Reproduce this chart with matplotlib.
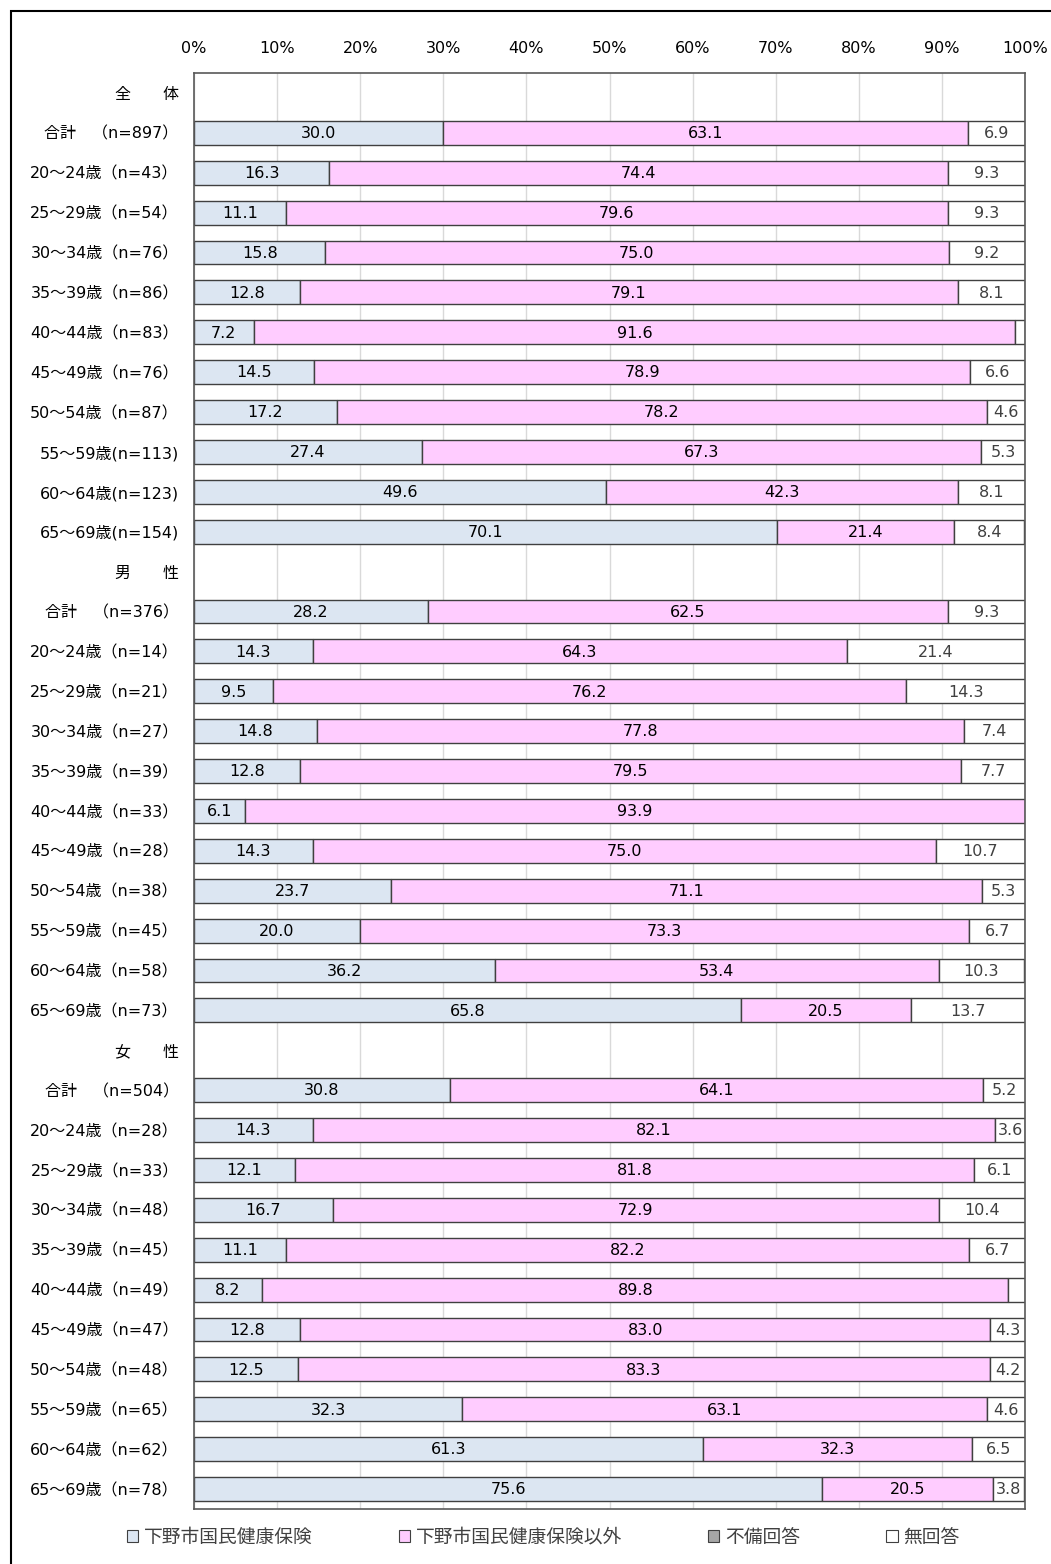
import matplotlib.pyplot as plt
from matplotlib.patches import Patch, Rectangle

plt.rcParams['font.family'] = ['DejaVu Sans', 'Noto Sans CJK JP']

# row labels (section headers have no data)
labels = [
    "全　　体",
    "合計　（n=897）", "20～24歳（n=43）", "25～29歳（n=54）", "30～34歳（n=76）",
    "35～39歳（n=86）", "40～44歳（n=83）", "45～49歳（n=76）", "50～54歳（n=87）",
    "55～59歳(n=113)", "60～64歳(n=123)", "65～69歳(n=154)",
    "男　　性",
    "合計　（n=376）", "20～24歳（n=14）", "25～29歳（n=21）", "30～34歳（n=27）",
    "35～39歳（n=39）", "40～44歳（n=33）", "45～49歳（n=28）", "50～54歳（n=38）",
    "55～59歳（n=45）", "60～64歳（n=58）", "65～69歳（n=73）",
    "女　　性",
    "合計　（n=504）", "20～24歳（n=28）", "25～29歳（n=33）", "30～34歳（n=48）",
    "35～39歳（n=45）", "40～44歳（n=49）", "45～49歳（n=47）", "50～54歳（n=48）",
    "55～59歳（n=65）", "60～64歳（n=62）", "65～69歳（n=78）",
]

# None marks a section header row
kokuho = [None, 30.0, 16.3, 11.1, 15.8, 12.8, 7.2, 14.5, 17.2, 27.4, 49.6, 70.1,
          None, 28.2, 14.3, 9.5, 14.8, 12.8, 6.1, 14.3, 23.7, 20.0, 36.2, 65.8,
          None, 30.8, 14.3, 12.1, 16.7, 11.1, 8.2, 12.8, 12.5, 32.3, 61.3, 75.6]
igai = [None, 63.1, 74.4, 79.6, 75.0, 79.1, 91.6, 78.9, 78.2, 67.3, 42.3, 21.4,
        None, 62.5, 64.3, 76.2, 77.8, 79.5, 93.9, 75.0, 71.1, 73.3, 53.4, 20.5,
        None, 64.1, 82.1, 81.8, 72.9, 82.2, 89.8, 83.0, 83.3, 63.1, 32.3, 20.5]
fubi = [None] + [0.0] * 11 + [None] + [0.0] * 11 + [None] + [0.0] * 11
mukaito = [None, 6.9, 9.3, 9.3, 9.2, 8.1, 1.2, 6.6, 4.6, 5.3, 8.1, 8.4,
           None, 9.3, 21.4, 14.3, 7.4, 7.7, 0.0, 10.7, 5.3, 6.7, 10.3, 13.7,
           None, 5.2, 3.6, 6.1, 10.4, 6.7, 2.0, 4.3, 4.2, 4.6, 6.5, 3.8]

series_names = ["下野市国民健康保険", "下野市国民健康保険以外", "不備回答", "無回答"]
series = [kokuho, igai, fubi, mukaito]
colors = ["#dce6f2", "#ffccff", "#a6a6a6", "#ffffff"]
text_colors = ["#000000", "#000000", "#000000", "#404040"]

fig = plt.figure(figsize=(10.51, 15.64), dpi=100)
ax = fig.add_axes([194 / 1051, 1 - 1509 / 1564, 831 / 1051, 1436 / 1564])

rows = list(range(len(labels)))
left = [0.0] * len(labels)
for vals, col, tcol in zip(series, colors, text_colors):
    for i, v in enumerate(vals):
        if v is None or v == 0:
            continue
        ax.barh(i, v, left=left[i], height=0.6, color=col,
                edgecolor="#404040", linewidth=1.0, zorder=2)
        if v >= 3:
            ax.text(left[i] + v / 2, i + 0.02, f"{v:.1f}", ha="center", va="center",
                    fontsize=11.5, color=tcol, zorder=3)
        left[i] += v

ax.set_xlim(0, 100)
ax.set_ylim(len(labels) - 0.5, -0.5)
ax.set_xticks(range(0, 101, 10))
ax.set_xticklabels([f"{t}%" for t in range(0, 101, 10)], fontsize=11.5)
ax.xaxis.tick_top()
ax.tick_params(axis="x", length=0, pad=12)
ax.set_yticks(rows)
ax.set_yticklabels(labels, fontsize=11.5)
ax.tick_params(axis="y", length=0, pad=11)
ax.grid(axis="x", color="#d9d9d9", linewidth=1, zorder=0)
ax.set_axisbelow(True)
for s in ax.spines.values():
    s.set_color("#595959")
    s.set_linewidth(1.2)

handles = [Patch(facecolor=c, edgecolor="#404040", linewidth=0.8) for c in colors]
fig.legend(handles, series_names, loc="center left", ncol=4,
           bbox_to_anchor=(110 / 1051, 1 - 1537 / 1564), frameon=False,
           prop={"family": ["Noto Sans CJK JP"], "size": 13.5},
           handlelength=0.6, handleheight=0.6, handletextpad=0.3,
           columnspacing=4.6, labelcolor="#404040")

# outer frame
fig.patches.append(Rectangle((11 / 1051, -0.01), 1.0, 1 - 11 / 1564 + 0.01,
                             transform=fig.transFigure, fill=False,
                             edgecolor="black", linewidth=1.5))

fig.savefig("out.png", dpi=100)
